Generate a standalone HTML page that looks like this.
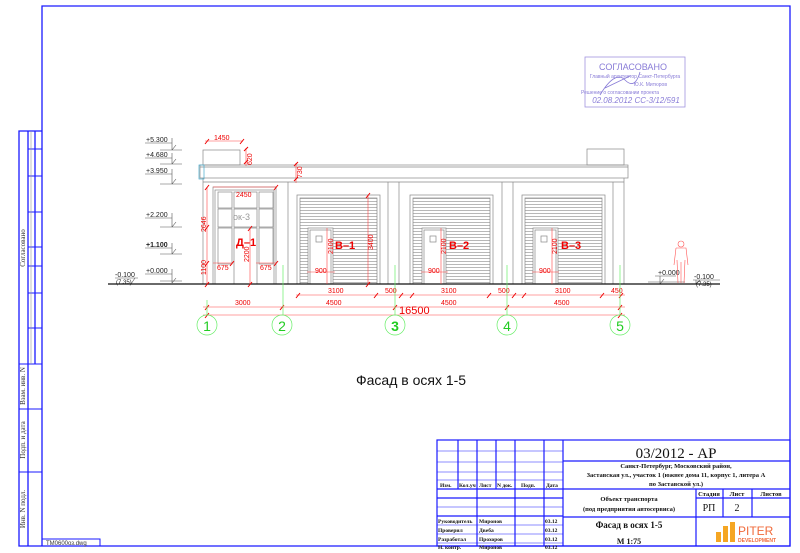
<!DOCTYPE html>
<html><head><meta charset="utf-8"><style>
html,body{margin:0;padding:0;background:#fff}
svg{display:block}
text{font-family:"Liberation Sans",sans-serif}
.m text,text.m{font-family:"Liberation Serif",serif}
</style></head><body>
<svg width="800" height="553" viewBox="0 0 800 553" xmlns="http://www.w3.org/2000/svg">
<defs>
<pattern id="sl" x="0" y="0" width="4" height="3" patternUnits="userSpaceOnUse">
<line x1="0" y1="0.5" x2="4" y2="0.5" stroke="#999" stroke-width="0.7"/>
</pattern>
</defs>
<!-- frame -->
<g stroke="#1a1aff" fill="none" stroke-width="1.3">
<polyline points="42,131 42,6 790,6 790,546 19,546 19,131 42,131"/>
<line x1="42" y1="131" x2="42" y2="546"/>
<line x1="28" y1="131" x2="28" y2="364"/>
<line x1="35" y1="131" x2="35" y2="364"/>
<line x1="28" y1="364" x2="28" y2="546"/>
<g stroke-width="1">
<line x1="28" y1="149" x2="42" y2="149"/><line x1="28" y1="176" x2="42" y2="176"/>
<line x1="28" y1="212" x2="42" y2="212"/><line x1="28" y1="247" x2="42" y2="247"/>
<line x1="28" y1="266" x2="42" y2="266"/><line x1="28" y1="293" x2="42" y2="293"/>
<line x1="28" y1="328" x2="42" y2="328"/>
<line x1="19" y1="364" x2="42" y2="364"/><line x1="19" y1="409" x2="42" y2="409"/>
<line x1="19" y1="472" x2="42" y2="472"/>
</g>
<rect x="42" y="539" width="58" height="7" stroke-width="1"/>
</g>
<g fill="#333" font-size="7" class="m">
<text transform="translate(25,248) rotate(-90)" text-anchor="middle">Согласовано</text>
<text transform="translate(25,386) rotate(-90)" text-anchor="middle">Взам. инв. N</text>
<text transform="translate(25,440) rotate(-90)" text-anchor="middle">Подп. и дата</text>
<text transform="translate(25,509) rotate(-90)" text-anchor="middle">Инв. N подл.</text>
</g>
<text x="46" y="545" font-size="6" fill="#333">ТМ0600оз.dwg</text>
<g stroke="#999" stroke-width="0.6"><line x1="31" y1="131" x2="31" y2="364"/></g>

<!-- stamp -->
<g fill="#6a5acd" opacity="0.8">
<rect x="585" y="57" width="100" height="50" fill="none" stroke="#8a7ad8" stroke-width="0.8"/>
<text x="633" y="70" font-size="9" text-anchor="middle">СОГЛАСОВАНО</text>
<text x="635" y="78" font-size="5" text-anchor="middle">Главный архитектор Санкт-Петербурга</text>
<text x="667" y="86" font-size="5" text-anchor="end">Ю.К. Митюров</text>
<text x="620" y="94" font-size="5" text-anchor="middle">Решение о согласовании проекта</text>
<text x="636" y="103" font-size="8" text-anchor="middle" font-style="italic">02.08.2012  СС-3/12/591</text>
<path d="M600,95 Q615,70 625,80 T640,72 M605,88 L630,76" stroke="#6a5acd" fill="none" stroke-width="0.8"/>
</g>

<!-- elevation marks -->
<g font-size="7" fill="#222">
<g stroke="#555" stroke-width="0.6" fill="none">
<path d="M145,143 H172 M172,138 V150 M160,150 H182 M172,150 L176,145"/>
<path d="M145,158 H172 M172,153 V164 M160,164 H182 M172,164 L176,159"/>
<path d="M145,174 H172 M172,169 V184 M160,184 H182 M172,184 L176,179"/>
<path d="M145,218 H172 M172,213 V227 M160,227 H182 M172,227 L176,222"/>
<path d="M145,248 H172 M172,243 V254 M160,254 H182 M172,254 L176,249"/>
<path d="M145,274 H172 M172,269 V283 M160,281 H182 M172,283 L176,278"/>
<path d="M115,278 H138 M135,278 L131,284"/>
<path d="M655,276 H676 M660,276 V284 M660,284 L664,279 M648,282 H685"/>
<path d="M693,280 H720 M696,280 V284 M696,284 L700,280"/>
</g>
<text x="146" y="142">+5.300</text><text x="146" y="157">+4.680</text>
<text x="146" y="173">+3.950</text><text x="146" y="217">+2.200</text>
<text x="146" y="247" font-weight="bold">+1.100</text><text x="146" y="273">+0.000</text>
<text x="115" y="277">-0.100</text><text x="116" y="284" font-size="6">(7.35)</text>
<text x="658" y="275">+0.000</text>
<text x="694" y="279">-0.100</text><text x="696" y="286" font-size="6">(7.35)</text>
</g>

<!-- building -->
<g stroke="#888" stroke-width="0.7" fill="none">
<rect x="203" y="150" width="37" height="15"/>
<rect x="587" y="149" width="37" height="16"/>
<rect x="200" y="165" width="428" height="13"/>
<line x1="200" y1="167" x2="628" y2="167"/>
<line x1="203" y1="182" x2="624" y2="182"/>
<line x1="203" y1="178" x2="203" y2="284"/>
<line x1="624" y1="178" x2="624" y2="284"/>
<line x1="288" y1="182" x2="288" y2="284"/>
<line x1="388" y1="182" x2="388" y2="284"/><line x1="399" y1="182" x2="399" y2="284"/>
<line x1="502" y1="182" x2="502" y2="284"/><line x1="513" y1="182" x2="513" y2="284"/>
<line x1="613" y1="182" x2="613" y2="284"/>
<rect x="213" y="187" width="63" height="97"/>
<rect x="215" y="190" width="59" height="94"/>
<rect x="218" y="192" width="14" height="16"/><rect x="234" y="192" width="23" height="16"/><rect x="259" y="192" width="14" height="16"/>
<rect x="218" y="209" width="14" height="18"/><rect x="234" y="209" width="23" height="18"/><rect x="259" y="209" width="14" height="18"/>
<rect x="218" y="228" width="14" height="36"/><rect x="259" y="228" width="14" height="36"/>
<rect x="234" y="228" width="23" height="56"/>
<rect x="297" y="195" width="83" height="89"/>
<rect x="300" y="198" width="77" height="86" fill="url(#sl)"/>
<rect x="410" y="195" width="83" height="89"/>
<rect x="413" y="198" width="77" height="86" fill="url(#sl)"/>
<rect x="522" y="195" width="83" height="89"/>
<rect x="525" y="198" width="77" height="86" fill="url(#sl)"/>
<g fill="#fff">
<rect x="308" y="228" width="25" height="56"/><rect x="422" y="228" width="24" height="56"/><rect x="533" y="228" width="25" height="56"/>
</g>
<rect x="310" y="230" width="21" height="54"/><rect x="424" y="230" width="20" height="54"/><rect x="535" y="230" width="21" height="54"/>
<rect x="316" y="236" width="6" height="6"/><rect x="430" y="236" width="6" height="6"/><rect x="541" y="236" width="6" height="6"/>
</g>
<rect x="199" y="165" width="5" height="14" fill="none" stroke="#4ac" stroke-width="0.7"/>
<text x="233" y="220" font-size="9" fill="#999">ок-3</text>
<line x1="108" y1="284" x2="720" y2="284" stroke="#111" stroke-width="1.3"/>

<!-- person -->
<g stroke="#f55" stroke-width="0.6" fill="none">
<circle cx="681" cy="244" r="3"/>
<path d="M676,248 H686 L688,265 M676,248 L674,265 M677,260 L678,283 M685,260 L684,283 M681,262 V283"/>
</g>

<!-- red labels -->
<g fill="#e00" font-size="7">
<g stroke="#f44" stroke-width="0.6" fill="none">
<line x1="205" y1="141" x2="243" y2="141"/><line x1="246" y1="148" x2="246" y2="166"/>
<line x1="296" y1="163" x2="296" y2="183"/>
<line x1="213" y1="187" x2="277" y2="187"/>
<line x1="207" y1="187" x2="207" y2="284"/>
<line x1="213" y1="263" x2="232" y2="263"/><line x1="256" y1="263" x2="276" y2="263"/>
<line x1="250" y1="228" x2="250" y2="284"/>
<line x1="368" y1="195" x2="368" y2="284"/>
<line x1="307" y1="272" x2="335" y2="272"/><line x1="421" y1="272" x2="448" y2="272"/><line x1="532" y1="272" x2="559" y2="272"/>
<line x1="327" y1="228" x2="327" y2="284"/><line x1="441" y1="228" x2="441" y2="284"/><line x1="552" y1="228" x2="552" y2="284"/>
<line x1="296" y1="295" x2="625" y2="295"/>
<line x1="203" y1="307" x2="625" y2="307"/>
<line x1="203" y1="315" x2="625" y2="315"/>
</g>
<g stroke="#e00" stroke-width="1">
<path d="M205,144 l4,-5 M240,144 l4,-5 M244,151 l4,-4 M244,164 l4,-4 M294,166 l4,-4 M294,181 l4,-4 M205,190 l4,-5 M274,190 l4,-5 M205,230 l4,-5 M205,266 l4,-5 M205,287 l4,-5 M248,231 l4,-5 M248,287 l4,-5 M366,198 l4,-5 M366,287 l4,-5 M230,266 l4,-5 M274,266 l4,-5"/>
<path d="M296,298 l4,-5 M374,298 l4,-5 M399,298 l4,-5 M410,298 l4,-5 M487,298 l4,-5 M512,298 l4,-5 M522,298 l4,-5 M600,298 l4,-5 M619,298 l4,-5"/>
<path d="M205,310 l4,-5 M280,310 l4,-5 M393,310 l4,-5 M505,310 l4,-5 M618,310 l4,-5 M205,318 l4,-5 M618,318 l4,-5"/>
</g>
<text x="214" y="140">1450</text>
<text transform="translate(252,165) rotate(-90)">620</text>
<text transform="translate(302,178) rotate(-90)">730</text>
<text x="236" y="197">2450</text>
<text transform="translate(206,232) rotate(-90)">2646</text>
<text transform="translate(206,275) rotate(-90)">1100</text>
<text x="217" y="270">675</text><text x="260" y="270">675</text>
<text transform="translate(249,262) rotate(-90)">2200</text>
<text transform="translate(373,250) rotate(-90)">3400</text>
<text transform="translate(333,254) rotate(-90)">2100</text>
<text transform="translate(446,254) rotate(-90)">2100</text>
<text transform="translate(557,254) rotate(-90)">2100</text>
<text x="315" y="273">900</text><text x="428" y="273">900</text><text x="539" y="273">900</text>
<text x="328" y="293">3100</text><text x="385" y="293">500</text>
<text x="441" y="293">3100</text><text x="498" y="293">500</text>
<text x="555" y="293">3100</text><text x="611" y="293">450</text>
<text x="235" y="305">3000</text><text x="326" y="305">4500</text>
<text x="441" y="305">4500</text><text x="554" y="305">4500</text>
<text x="399" y="314" font-size="11">16500</text>
<g font-size="11" font-weight="bold">
<text x="236" y="246">Д–1</text><text x="335" y="249">В–1</text>
<text x="449" y="249">В–2</text><text x="561" y="249">В–3</text>
</g>
</g>
<g stroke="#6e6" stroke-width="0.7" fill="none">
<line x1="283" y1="265" x2="283" y2="315"/><line x1="395" y1="265" x2="395" y2="315"/>
<line x1="507" y1="265" x2="507" y2="315"/><line x1="620" y1="265" x2="620" y2="315"/><line x1="207" y1="300" x2="207" y2="315"/>
<circle cx="207" cy="325" r="10"/><circle cx="282" cy="325" r="10"/><circle cx="395" cy="325" r="10"/>
<circle cx="507" cy="325" r="10"/><circle cx="620" cy="325" r="10"/>
</g>
<g fill="#2c2" font-size="14" text-anchor="middle">
<text x="207" y="331">1</text><text x="282" y="331">2</text><text x="395" y="331" font-weight="bold">3</text>
<text x="507" y="331">4</text><text x="620" y="331">5</text>
</g>
<text x="356" y="385" font-size="14" fill="#111">Фасад в осях 1-5</text>

<!-- title block -->
<g stroke="#1a1aff" stroke-width="1.2" fill="none">
<rect x="437" y="440" width="353" height="106"/>
<line x1="563" y1="440" x2="563" y2="546"/>
<line x1="458" y1="440" x2="458" y2="489"/><line x1="477" y1="440" x2="477" y2="546"/>
<line x1="496" y1="440" x2="496" y2="489"/><line x1="515" y1="440" x2="515" y2="546"/>
<line x1="544" y1="440" x2="544" y2="546"/>
<line x1="563" y1="461" x2="790" y2="461"/>
<line x1="437" y1="489" x2="790" y2="489"/>
<line x1="437" y1="498" x2="563" y2="498"/>
<line x1="696" y1="489" x2="696" y2="546"/><line x1="723" y1="489" x2="723" y2="517"/><line x1="752" y1="489" x2="752" y2="517"/>
<line x1="696" y1="498" x2="790" y2="498"/>
<line x1="563" y1="517" x2="790" y2="517"/>
<line x1="437" y1="516" x2="563" y2="516"/>
<g stroke-width="0.6">
<line x1="437" y1="451" x2="563" y2="451"/><line x1="437" y1="462" x2="563" y2="462"/>
<line x1="437" y1="472" x2="563" y2="472"/><line x1="437" y1="480" x2="563" y2="480"/>
<line x1="437" y1="507" x2="563" y2="507"/>
<line x1="437" y1="525" x2="563" y2="525"/><line x1="437" y1="534" x2="563" y2="534"/>
<line x1="437" y1="543" x2="563" y2="543"/>
</g>
</g>
<g class="m" fill="#111" font-size="5.5" font-weight="bold">
<text x="440" y="487">Изм.</text><text x="459" y="487">Кол.уч</text><text x="479" y="487">Лист</text>
<text x="497" y="487">N док.</text><text x="521" y="487">Подп.</text><text x="546" y="487">Дата</text>
<text x="438" y="523">Руководитель</text><text x="479" y="523">Миронов</text><text x="545" y="523">03.12</text>
<text x="438" y="532">Проверил</text><text x="479" y="532">Двеба</text><text x="545" y="532">03.12</text>
<text x="438" y="541">Разработал</text><text x="479" y="541">Прохоров</text><text x="545" y="541">03.12</text>
<text x="438" y="549">Н. контр.</text><text x="479" y="549">Миронов</text><text x="545" y="549">03.12</text>
<text x="676" y="458" font-size="15" text-anchor="middle" font-weight="normal">03/2012 - АР</text>
<text x="676" y="468" font-size="6.5" text-anchor="middle">Санкт-Петербург, Московский район,</text>
<text x="676" y="477" font-size="6.5" text-anchor="middle">Заставская ул., участок 1 (южнее дома 11, корпус 1, литера А</text>
<text x="676" y="486" font-size="6.5" text-anchor="middle">по Заставской ул.)</text>
<text x="629" y="501" font-size="6.5" text-anchor="middle">Объект транспорта</text>
<text x="629" y="511" font-size="6.5" text-anchor="middle">(под предприятия автосервиса)</text>
<text x="709" y="496" font-size="6.5" text-anchor="middle">Стадия</text>
<text x="737" y="496" font-size="6.5" text-anchor="middle">Лист</text>
<text x="771" y="496" font-size="6.5" text-anchor="middle">Листов</text>
<text x="709" y="511" font-size="10" text-anchor="middle" font-weight="normal">РП</text>
<text x="737" y="511" font-size="10" text-anchor="middle" font-weight="normal">2</text>
<text x="629" y="528" font-size="9" text-anchor="middle">Фасад в осях 1-5</text>
<text x="629" y="544" font-size="8" text-anchor="middle">М 1:75</text>
</g>
<g fill="#f5a623">
<rect x="716" y="532" width="5" height="10"/><rect x="723" y="526" width="5" height="16"/><rect x="730" y="522" width="5" height="20"/>
</g>
<text x="738" y="535" font-size="12" fill="#f06a3a">PITER</text>
<text x="738" y="542" font-size="5" fill="#f06a3a" font-weight="bold">DEVELOPMENT</text>
</svg>
</body></html>
